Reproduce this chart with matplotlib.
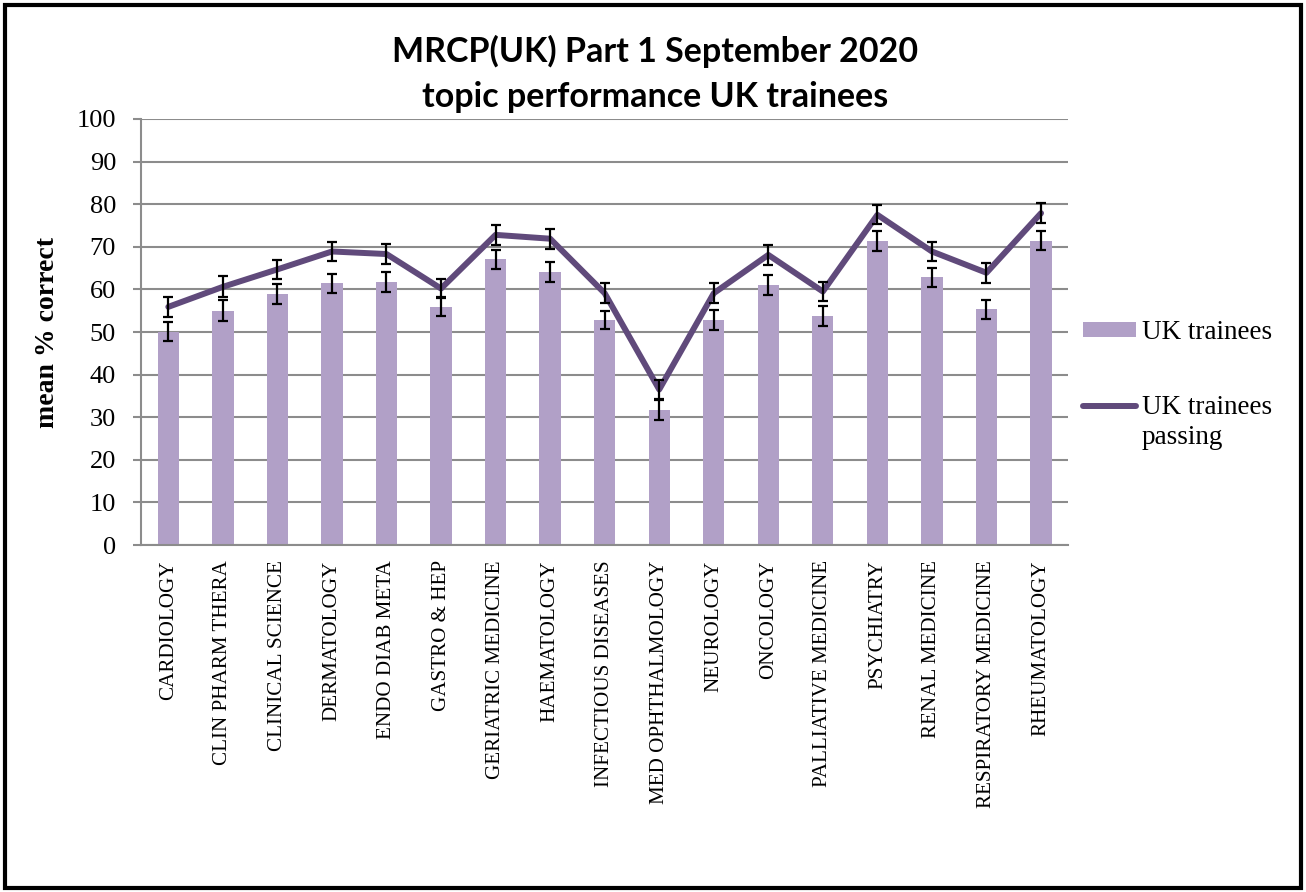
import matplotlib
matplotlib.use('Agg')
import matplotlib.pyplot as plt
import matplotlib.patches as patches
import numpy as np

# Topic values
topics = ['CARDIOLOGY', 'CLIN PHARM THERA', 'CLINICAL SCIENCE', 'DERMATOLOGY',
          'ENDO DIAB META', 'GASTRO & HEP', 'GERIATRIC MEDICINE', 'HAEMATOLOGY',
          'INFECTIOUS DISEASES', 'MED OPHTHALMOLOGY', 'NEUROLOGY', 'ONCOLOGY',
          'PALLIATIVE MEDICINE', 'PSYCHIATRY', 'RENAL MEDICINE',
          'RESPIRATORY MEDICINE', 'RHEUMATOLOGY']
uk_trainees = [50.1, 55.0, 58.9, 61.4, 61.8, 55.9, 67.1, 64.1,
               52.8, 31.7, 52.8, 61.0, 53.8, 71.4, 62.8, 55.3, 71.4]
uk_trainees_err = [2.3, 2.4, 2.3, 2.3, 2.3, 2.2, 2.2, 2.3,
                   2.2, 2.3, 2.3, 2.3, 2.3, 2.3, 2.2, 2.3, 2.2]
uk_passing = [55.9, 60.6, 64.7, 68.9, 68.3, 60.2, 72.8, 71.9,
              59.1, 36.5, 59.1, 68.1, 59.5, 77.5, 68.9, 63.9, 77.9]
uk_passing_err = [2.3, 2.5, 2.3, 2.3, 2.3, 2.2, 2.4, 2.3,
                  2.4, 2.2, 2.3, 2.3, 2.3, 2.2, 2.3, 2.3, 2.3]
y_ticks = list(range(0, 101, 10))

bar_color = '#b1a0c7'
line_color = '#604a7b'
grid_color = '#8c8c8c'
serif = 'Liberation Serif'

fig = plt.figure(figsize=(13.06, 8.92), dpi=100)
ax = fig.add_axes([0.108, 0.389, 0.710, 0.4776])

x = np.arange(len(topics))
bars = ax.bar(x, uk_trainees, width=0.39, color=bar_color, zorder=2)
ax.errorbar(x, uk_trainees, yerr=uk_trainees_err, fmt='none', ecolor='black',
            elinewidth=1.6, capsize=3.8, capthick=1.6, zorder=3)
line, = ax.plot(x, uk_passing, color=line_color, linewidth=4.3, zorder=4,
                solid_capstyle='round')
ax.errorbar(x, uk_passing, yerr=uk_passing_err, fmt='none', ecolor='black',
            elinewidth=1.6, capsize=3.8, capthick=1.6, zorder=5)

ax.set_xlim(-0.5, len(topics) - 0.5)
ax.set_ylim(0, 100)
ax.set_yticks(y_ticks)
ax.set_yticklabels([str(v) for v in y_ticks], fontsize=19, family=serif)
ax.set_xticks(x)
ax.set_xticklabels(topics, rotation=90, fontsize=15.2, family=serif)
ax.tick_params(axis='x', length=0, pad=11)
ax.tick_params(axis='y', length=6, width=1.5, color=grid_color, pad=12)
ax.yaxis.grid(True, color=grid_color, linewidth=1.5, zorder=0)
ax.set_axisbelow(True)
for side in ['top', 'right']:
    ax.spines[side].set_visible(False)
for side in ['left', 'bottom']:
    ax.spines[side].set_color(grid_color)
    ax.spines[side].set_linewidth(1.5)

ax.set_ylabel('mean % correct', fontsize=20, fontweight='bold', family=serif, labelpad=12)

fig.text(0.5015, 0.917, 'MRCP(UK) Part 1 September 2020\ntopic performance UK trainees',
         ha='center', va='center', fontsize=24.5, fontweight='bold', family='Lato',
         linespacing=1.5)

# Legend: the line entry's label wraps, handle sits level with the first line
leg = ax.legend(handles=[bars, line], labels=['UK trainees', 'UK trainees'],
                loc='upper left', bbox_to_anchor=(0.99, 0.585),
                frameon=False, prop={'family': serif, 'size': 19.5}, handlelength=1.95,
                handleheight=0.5, handletextpad=0.2, labelspacing=1.85)
fig.canvas.draw()
bb = leg.get_texts()[1].get_window_extent().transformed(fig.transFigure.inverted())
fig.text(bb.x0, bb.y0 - 0.005, 'passing', ha='left', va='top',
         fontsize=19.5, family=serif)

# Outer frame round the figure
fig.add_artist(patches.Rectangle((0.004, 0.004), 0.992, 0.99, transform=fig.transFigure,
                                 fill=False, edgecolor='black', linewidth=3))

fig.savefig('out.png', dpi=100)
